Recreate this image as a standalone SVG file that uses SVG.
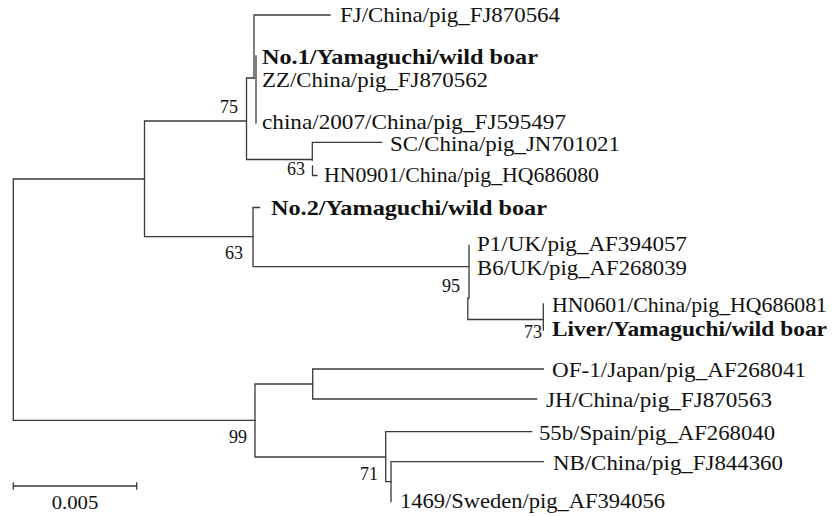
<svg xmlns="http://www.w3.org/2000/svg" width="838" height="516" viewBox="0 0 838 516">
<style>
.br{stroke:#3a3a3a;stroke-width:1.3;fill:none;stroke-linecap:square}
.lb{font-family:"Liberation Serif","Times New Roman",serif;font-size:21px;fill:#111}
.bd{font-weight:bold}
.bs{font-family:"Liberation Serif","Times New Roman",serif;font-size:18px;fill:#111;text-anchor:end}
</style>
<rect width="838" height="516" fill="#fff"/>
<g id="connectors" class="br">
<path d="M13.3,179V420.3M13.3,179H144.5M13.3,420.3H255"/>
<path d="M144.5,121V236.7M144.5,121H246.5M144.5,236.7H253"/>
<path d="M246.5,78V159.5M246.5,78H254M246.5,159.5H312.3"/>
<path d="M254,15V78M254,15H330"/>
<path d="M256,56V123"/>
<path d="M312.3,142.3V160M312.3,142.3H381.7M312.5,166V175.5H317"/>
<path d="M253,207.5V266.7M253,207.5H259.5M253,266.7H468.5"/>
<path d="M469,245.5V298M467.8,298V319.5M467.8,319.5H543.3"/>
<path d="M543.3,304V330"/>
<path d="M255,384V457M255,384H312.7M255,457H385.7"/>
<path d="M312.7,369V399M312.7,369H543.3M312.7,399H536.7"/>
<path d="M385.7,431.7V481.7M385.7,431.7H531.7M385.7,481.7H391"/>
<path d="M391,461.7V501.7M391,461.7H543.3"/>
</g>
<g id="node-n75"><text class="bs" x="238" y="113">75</text></g>
<g id="node-n63a"><text class="bs" x="305" y="175">63</text></g>
<g id="node-n63b"><text class="bs" x="243" y="259">63</text></g>
<g id="node-n95"><text class="bs" x="460" y="291.5">95</text></g>
<g id="node-n73"><text class="bs" x="542" y="338">73</text></g>
<g id="node-n99"><text class="bs" x="247" y="443">99</text></g>
<g id="node-n71"><text class="bs" x="378" y="480">71</text></g>
<g id="leaf-FJ870564"><text class="lb" x="340" y="22" textLength="220" lengthAdjust="spacingAndGlyphs">FJ/China/pig_FJ870564</text></g>
<g id="leaf-No1"><text class="lb bd" x="262" y="63.5" textLength="276" lengthAdjust="spacingAndGlyphs">No.1/Yamaguchi/wild boar</text></g>
<g id="leaf-FJ870562"><text class="lb" x="262" y="87" textLength="226" lengthAdjust="spacingAndGlyphs">ZZ/China/pig_FJ870562</text></g>
<g id="leaf-FJ595497"><text class="lb" x="262" y="129" textLength="304" lengthAdjust="spacingAndGlyphs">china/2007/China/pig_FJ595497</text></g>
<g id="leaf-JN701021"><text class="lb" x="390" y="151" textLength="230" lengthAdjust="spacingAndGlyphs">SC/China/pig_JN701021</text></g>
<g id="leaf-HQ686080"><text class="lb" x="324" y="182" textLength="275" lengthAdjust="spacingAndGlyphs">HN0901/China/pig_HQ686080</text></g>
<g id="leaf-No2"><text class="lb bd" x="271" y="215" textLength="276" lengthAdjust="spacingAndGlyphs">No.2/Yamaguchi/wild boar</text></g>
<g id="leaf-AF394057"><text class="lb" x="477" y="251" font-size="20" style="font-size:20px" textLength="210" lengthAdjust="spacingAndGlyphs">P1/UK/pig_AF394057</text></g>
<g id="leaf-AF268039"><text class="lb" x="477" y="274.5" font-size="20" style="font-size:20px" textLength="210" lengthAdjust="spacingAndGlyphs">B6/UK/pig_AF268039</text></g>
<g id="leaf-HQ686081"><text class="lb" x="552" y="312" textLength="275" lengthAdjust="spacingAndGlyphs">HN0601/China/pig_HQ686081</text></g>
<g id="leaf-Liver"><text class="lb bd" x="552" y="336" textLength="275" lengthAdjust="spacingAndGlyphs">Liver/Yamaguchi/wild boar</text></g>
<g id="leaf-AF268041"><text class="lb" x="552" y="377" textLength="254" lengthAdjust="spacingAndGlyphs">OF-1/Japan/pig_AF268041</text></g>
<g id="leaf-FJ870563"><text class="lb" x="546" y="407" textLength="226" lengthAdjust="spacingAndGlyphs">JH/China/pig_FJ870563</text></g>
<g id="leaf-AF268040"><text class="lb" x="539" y="440" textLength="236" lengthAdjust="spacingAndGlyphs">55b/Spain/pig_AF268040</text></g>
<g id="leaf-FJ844360"><text class="lb" x="553" y="470" textLength="230" lengthAdjust="spacingAndGlyphs">NB/China/pig_FJ844360</text></g>
<g id="leaf-AF394056"><text class="lb" x="400" y="508" textLength="265" lengthAdjust="spacingAndGlyphs">1469/Sweden/pig_AF394056</text></g>
<g id="scale-bar">
<path class="br" d="M13.3,486H136.7M13.3,483V489M136.7,483V489"/>
<text class="lb" x="51.7" y="509.3" style="font-size:19px" textLength="46.6" lengthAdjust="spacingAndGlyphs">0.005</text>
</g>
</svg>
